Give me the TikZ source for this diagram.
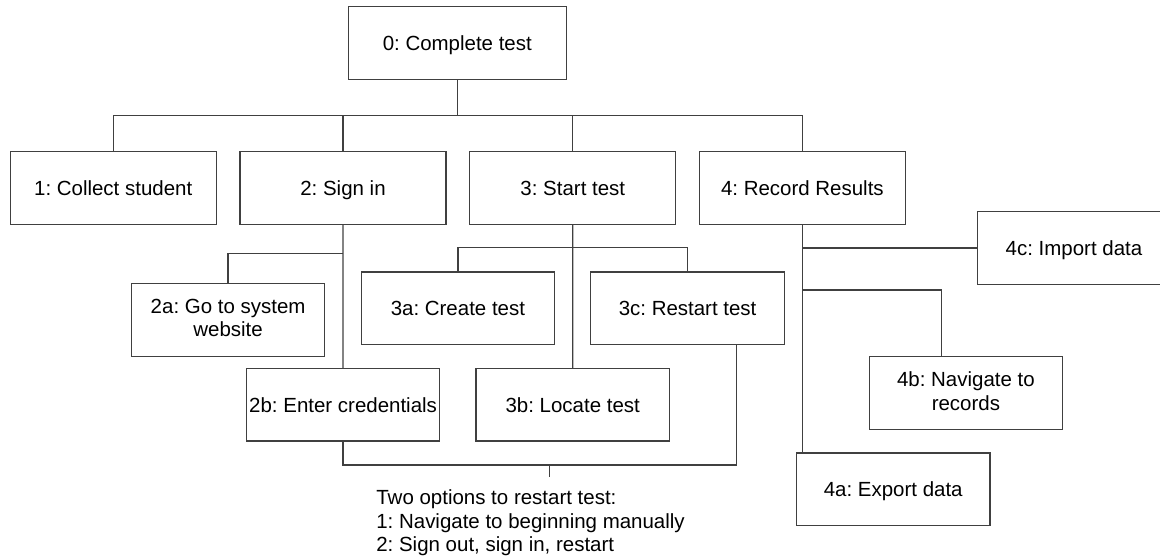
\documentclass[tikz,border=0pt]{standalone}
\usepackage{fontspec}
\setmainfont{Liberation Sans}
\frenchspacing
\newcommand\boxstrut{\rule[-2.5pt]{0pt}{13.3pt}}
\begin{document}
\begin{tikzpicture}[x=0.02cm, y=-0.02cm,
  box/.style={draw=black!75, line width=0.7pt, inner sep=1pt, minimum height=1.45cm, align=center, font=\fontsize{11.65}{13.6}\selectfont, execute at begin node=\boxstrut, execute at end node=\boxstrut},
  top/.style={box, minimum width=4.12cm},
  leaf/.style={box, minimum width=3.87cm},
  wire/.style={draw=black!75, line width=0.7pt}]
  \useasboundingbox (0,0) rectangle (1160,559);
  \clip (0,0) rectangle (1160,559);
  % root and first level
  \node[box, minimum width=4.36cm] (n0) at (457.3,43) {0: Complete test};
  \node[top] (n1) at (113.2,188) {1: Collect student};
  \node[top] (n2) at (343,188) {2: Sign in};
  \node[top] (n3) at (572.8,188) {3: Start test};
  \node[top] (n4) at (802.4,188) {4: Record Results};
  % second level
  \node[leaf] (n2a) at (228.1,320) {2a: Go to system\\website};
  \node[leaf] (n2b) at (343.1,404.7) {2b: Enter credentials};
  \node[leaf] (n3a) at (457.9,308.2) {3a: Create test};
  \node[leaf] (n3b) at (572.7,404.7) {3b: Locate test};
  \node[leaf] (n3c) at (687.6,308.2) {3c: Restart test};
  \node[leaf] (n4c) at (1074,248) {4c: Import data};
  \node[leaf] (n4b) at (965.9,392.9) {4b: Navigate to\\records};
  \node[leaf] (n4a) at (893.2,489.2) {4a: Export data};
  \node[anchor=north west, inner sep=0pt, align=left, font=\fontsize{11.65}{13.6}\selectfont] (note) at (376,489)
    {Two options to restart test:\\1: Navigate to beginning manually\\2: Sign out, sign in, restart};
  % junctions
  \coordinate (bus) at (0,115.3);
  \coordinate (bus2) at (0,253.3);
  \coordinate (bus3) at (0,247.3);
  \coordinate (j4b) at (941.2,290);
  \coordinate (rail) at (549.2,465);
  \coordinate (tick) at (549.2,476.7);
  \foreach \c in {n1,n2,n3,n4}
    \draw[wire] (n0.south) -- (n0.south |- bus) -| (\c.north);
  \draw[wire] (n2.south) -- (n2b.north);
  \draw[wire] (n2.south |- bus2) -| (n2a.north);
  \draw[wire] (n3.south) -- (n3b.north);
  \draw[wire] (n3a.north) -- (n3a.north |- bus3) -| (n3c.north);
  \draw[wire] (n4.south) -- (n4.south |- n4a.north);
  \draw[wire] (n4.south |- n4c.west) -- (n4c.west);
  \draw[wire] (n4.south |- j4b) -- (j4b) -- (j4b |- n4b.north);
  \draw[wire] (n2b.south) |- (rail) -| ([xshift=0.976cm]n3c.south);
  \draw[wire] (rail) -- (tick);
\end{tikzpicture}
\end{document}
